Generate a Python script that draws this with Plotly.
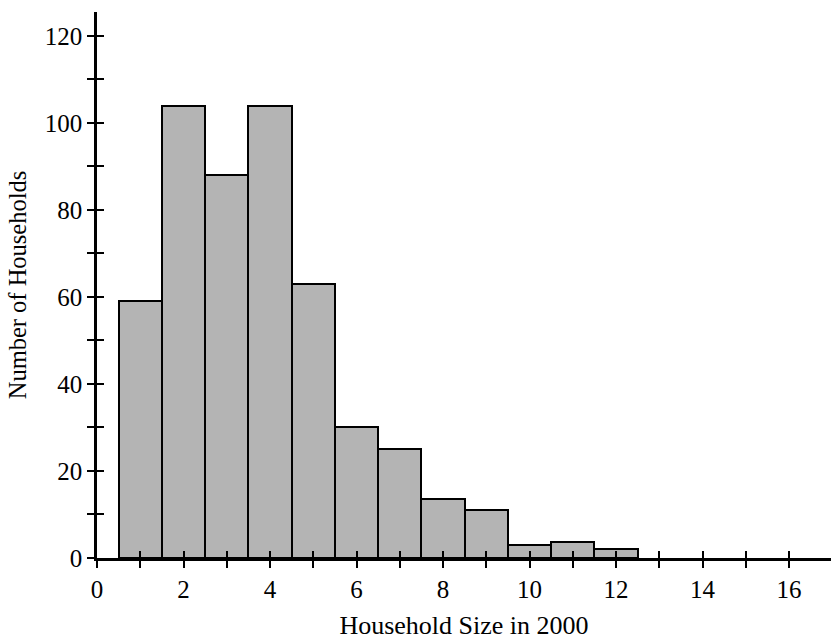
import plotly.graph_objects as go

household_size = [1, 2, 3, 4, 5, 6, 7, 8, 9, 10, 11, 12]
num_households = [59, 104, 88, 104, 63, 30, 25, 13.5, 11, 3, 3.7, 2]

x_tickvals = list(range(0, 17))
x_ticktext = [str(v) if v % 2 == 0 else "" for v in x_tickvals]
y_tickvals = list(range(0, 130, 10))
y_ticktext = [str(v) if v % 20 == 0 else "" for v in y_tickvals]

FONT = "Liberation Serif, Times New Roman, serif"

fig = go.Figure()
fig.add_trace(go.Bar(
    x=household_size, y=num_households, width=1,
    marker=dict(color="#b4b4b4", line=dict(color="black", width=2)),
    showlegend=False,
))

xr = [0, 16.97]
yr = [0, 125.5]

fig.update_layout(
    width=831, height=640,
    margin=dict(l=97, r=0, t=12, b=82),
    paper_bgcolor="white", plot_bgcolor="white",
    font=dict(family=FONT, size=25, color="black"),
    bargap=0,
    xaxis=dict(
        range=xr, tickvals=x_tickvals, ticktext=x_ticktext,
        ticks="outside", ticklen=7, tickwidth=1.5, tickcolor="black",
        showline=True, linecolor="black", linewidth=2.5,
        showgrid=False, zeroline=False, automargin=False,
        title=dict(text="Household Size in 2000", font=dict(size=26), standoff=18),
        tickfont=dict(size=25),
    ),
    yaxis=dict(
        range=yr, tickvals=y_tickvals, ticktext=y_ticktext,
        ticks="outside", ticklen=7, tickwidth=1.5, tickcolor="black",
        showline=True, linecolor="black", linewidth=2.5,
        showgrid=False, zeroline=False, automargin=False,
        title=dict(text="Number of Households", font=dict(size=24.5), standoff=12),
        tickfont=dict(size=25),
    ),
    xaxis2=dict(
        range=xr, overlaying="x", anchor="y", side="bottom",
        tickvals=x_tickvals, showticklabels=False, automargin=False,
        ticks="inside", ticklen=7, tickwidth=1.5, tickcolor="black",
        showline=False, showgrid=False, zeroline=False,
    ),
    yaxis2=dict(
        range=yr, overlaying="y", anchor="x", side="left",
        tickvals=y_tickvals, showticklabels=False, automargin=False,
        ticks="inside", ticklen=7, tickwidth=1.5, tickcolor="black",
        showline=False, showgrid=False, zeroline=False,
    ),
)
fig.add_trace(go.Scatter(x=[None], y=[None], xaxis="x2", yaxis="y2",
                         showlegend=False, hoverinfo="skip"))

fig.write_html("out.html", config={"displayModeBar": False},
               post_script="document.body.style.margin='0px';document.body.style.overflow='hidden';")
